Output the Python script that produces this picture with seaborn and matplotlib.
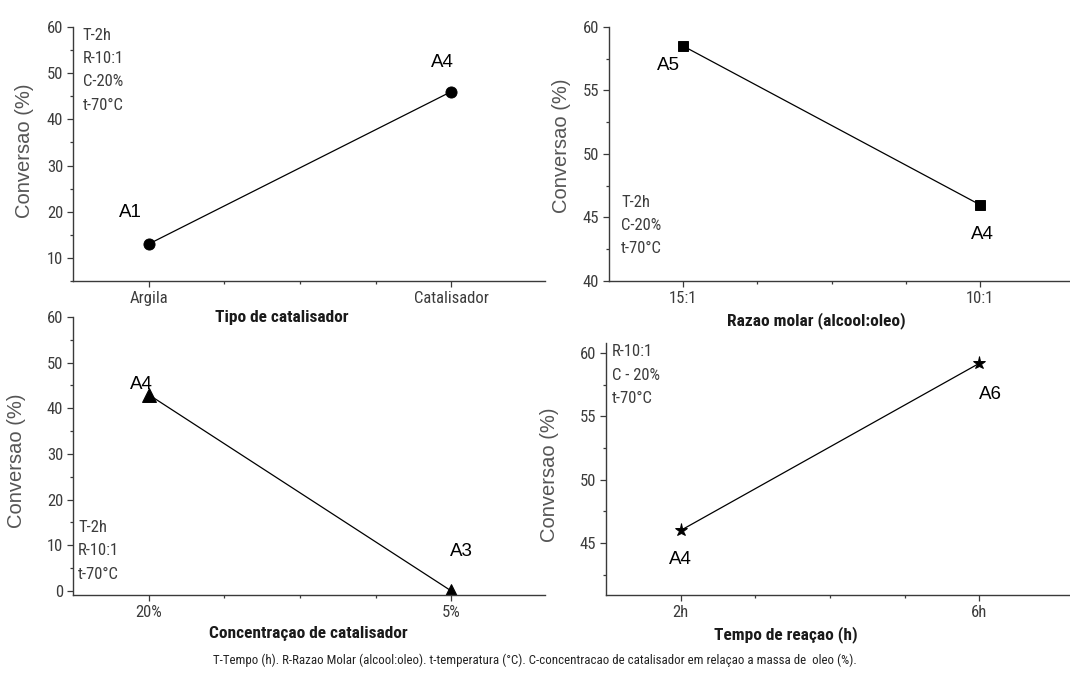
import matplotlib
matplotlib.use("Agg")
import matplotlib.pyplot as plt
from matplotlib import font_manager
from matplotlib.ticker import MultipleLocator, FixedLocator, NullFormatter
import seaborn as sns
import pandas as pd

# ---- data ----
tipo_cats = ["Argila", "Catalisador"]
tipo_vals = [13.0, 46.0]
tipo_tags = ["A1", "A4"]

razao_cats = ["15:1", "10:1"]
razao_vals = [58.5, 46.0]
razao_tags = ["A5", "A4"]

conc_cats = ["20%", "5%"]
conc_vals = [43.0, 0.0]
conc_tags = ["A4", "A3"]

tempo_cats = ["2h", "6h"]
tempo_vals = [46.0, 59.2]
tempo_tags = ["A4", "A6"]

sns.set_style("ticks")

installed = {f.name for f in font_manager.fontManager.ttflist}
def pick(*names):
    for n in names:
        if n in installed:
            return n
    return "DejaVu Sans"

NARROW = pick("Liberation Sans Narrow", "DejaVu Sans Condensed", "Roboto Condensed", "Liberation Sans")
REG = pick("Liberation Sans", "Arimo", "DejaVu Sans")
plt.rcParams["font.family"] = [NARROW, "DejaVu Sans"]

AX_COL = "#3a3a3a"
TXT_COL = "#3c3c3c"

W, H = 1070, 677
fig = plt.figure(figsize=(W / 100, H / 100), dpi=100)

def frac(left, right, top, bottom):
    return [left / W, 1 - bottom / H, (right - left) / W, (bottom - top) / H]

panels = [
    dict(rect=frac(73, 545, 27, 281), cats=tipo_cats, vals=tipo_vals, tags=tipo_tags,
         marker="o", ms=8, ylim=(5, 60), major=10, minor=5,
         xlabel="Tipo de catalisador", xl=(0.443, -0.145), yl=(-0.102, 0.512),
         note="T-2h\nR-10:1\nC-20%\nt-70°C", note_xy=(0.021, 0.998),
         offs=[(-18, 32), (-9, 29)]),
    dict(rect=frac(609, 1072, 27, 281), cats=razao_cats, vals=razao_vals, tags=razao_tags,
         marker="s", ms=7, ylim=(40, 60), major=5, minor=2.5,
         xlabel="Razao molar (alcool:oleo)", xl=(0.447, -0.155), yl=(-0.102, 0.531),
         note="T-2h\nC-20%\nt-70°C", note_xy=(0.026, 0.34),
         offs=[(-15, -19), (2, -30)]),
    dict(rect=frac(73, 545, 317, 595), cats=conc_cats, vals=conc_vals, tags=conc_tags,
         marker="^", ms=9.5, ylim=(-0.9, 60), major=10, minor=5,
         xlabel="Concentraçao de catalisador", xl=(0.498, -0.14), yl=(-0.119, 0.482),
         note="T-2h\nR-10:1\nt-70°C", note_xy=(0.011, 0.27),
         offs=[(-7, 10), (10, 39)]),
    dict(rect=frac(606, 1072, 343, 595), cats=tempo_cats, vals=tempo_vals, tags=tempo_tags,
         marker="*", ms=9.5, ylim=(40.9, 60.8), major=5, minor=2.5,
         xlabel="Tempo de reaçao (h)", xl=(0.386, -0.155), yl=(-0.121, 0.476),
         note="R-10:1\nC - 20%\nt-70°C", note_xy=(0.013, 0.995),
         offs=[(0, -29), (11, -31)]),
]

for p in panels:
    ax = fig.add_axes(p["rect"])
    ax.patch.set_alpha(0)
    df = pd.DataFrame({"cat": p["cats"], "val": p["vals"]})
    sns.pointplot(data=df, x="cat", y="val", order=p["cats"], ax=ax,
                  color="black", marker=p["marker"], markersize=p["ms"],
                  linewidth=0.9, errorbar=None)
    ax.set_xlim(-0.25, 1.31)
    ax.set_ylim(*p["ylim"])
    ax.yaxis.set_major_locator(MultipleLocator(p["major"]))
    ax.yaxis.set_minor_locator(MultipleLocator(p["minor"]))
    ax.xaxis.set_minor_locator(FixedLocator([0.25, 0.5, 0.75]))
    ax.xaxis.set_minor_formatter(NullFormatter())
    sns.despine(ax=ax)
    for s in ("left", "bottom"):
        ax.spines[s].set_color(AX_COL)
        ax.spines[s].set_linewidth(1.0)
    ax.tick_params(which="major", length=4.5, width=0.9, color=AX_COL,
                   labelcolor=TXT_COL, labelsize=12, pad=2.5)
    ax.tick_params(which="minor", length=2.5, width=0.9, color=AX_COL)
    ax.set_xticks([0, 1])
    ax.set_xticklabels(p["cats"])

    ax.set_xlabel(p["xlabel"], fontsize=12.5, fontweight="bold", color="#1a1a1a",
                  family=[NARROW, "DejaVu Sans"])
    ax.xaxis.set_label_coords(*p["xl"])
    ax.xaxis.label.set_va("center")
    ax.set_ylabel("Conversao (%)", fontsize=14.5, color="#555555", family=[REG, "DejaVu Sans"])
    ax.yaxis.set_label_coords(*p["yl"])
    ax.yaxis.label.set_va("center")

    ax.text(p["note_xy"][0], p["note_xy"][1], p["note"], transform=ax.transAxes,
            ha="left", va="top", fontsize=12, color=TXT_COL, linespacing=1.7)

    for i, (tag, v) in enumerate(zip(p["tags"], p["vals"])):
        ax.annotate(tag, xy=(i, v), xytext=p["offs"][i], textcoords="offset pixels",
                    ha="center", va="center", fontsize=13.5, color="black",
                    family=[REG, "DejaVu Sans"])

fig.text(535 / W, 1 - 660 / H,
         "T-Tempo (h). R-Razao Molar (alcool:oleo). t-temperatura (°C). "
         "C-concentracao de catalisador em relaçao a massa de  oleo (%).",
         ha="center", va="center", fontsize=9.3, color="#222222")

fig.savefig("out.png", dpi=100)
